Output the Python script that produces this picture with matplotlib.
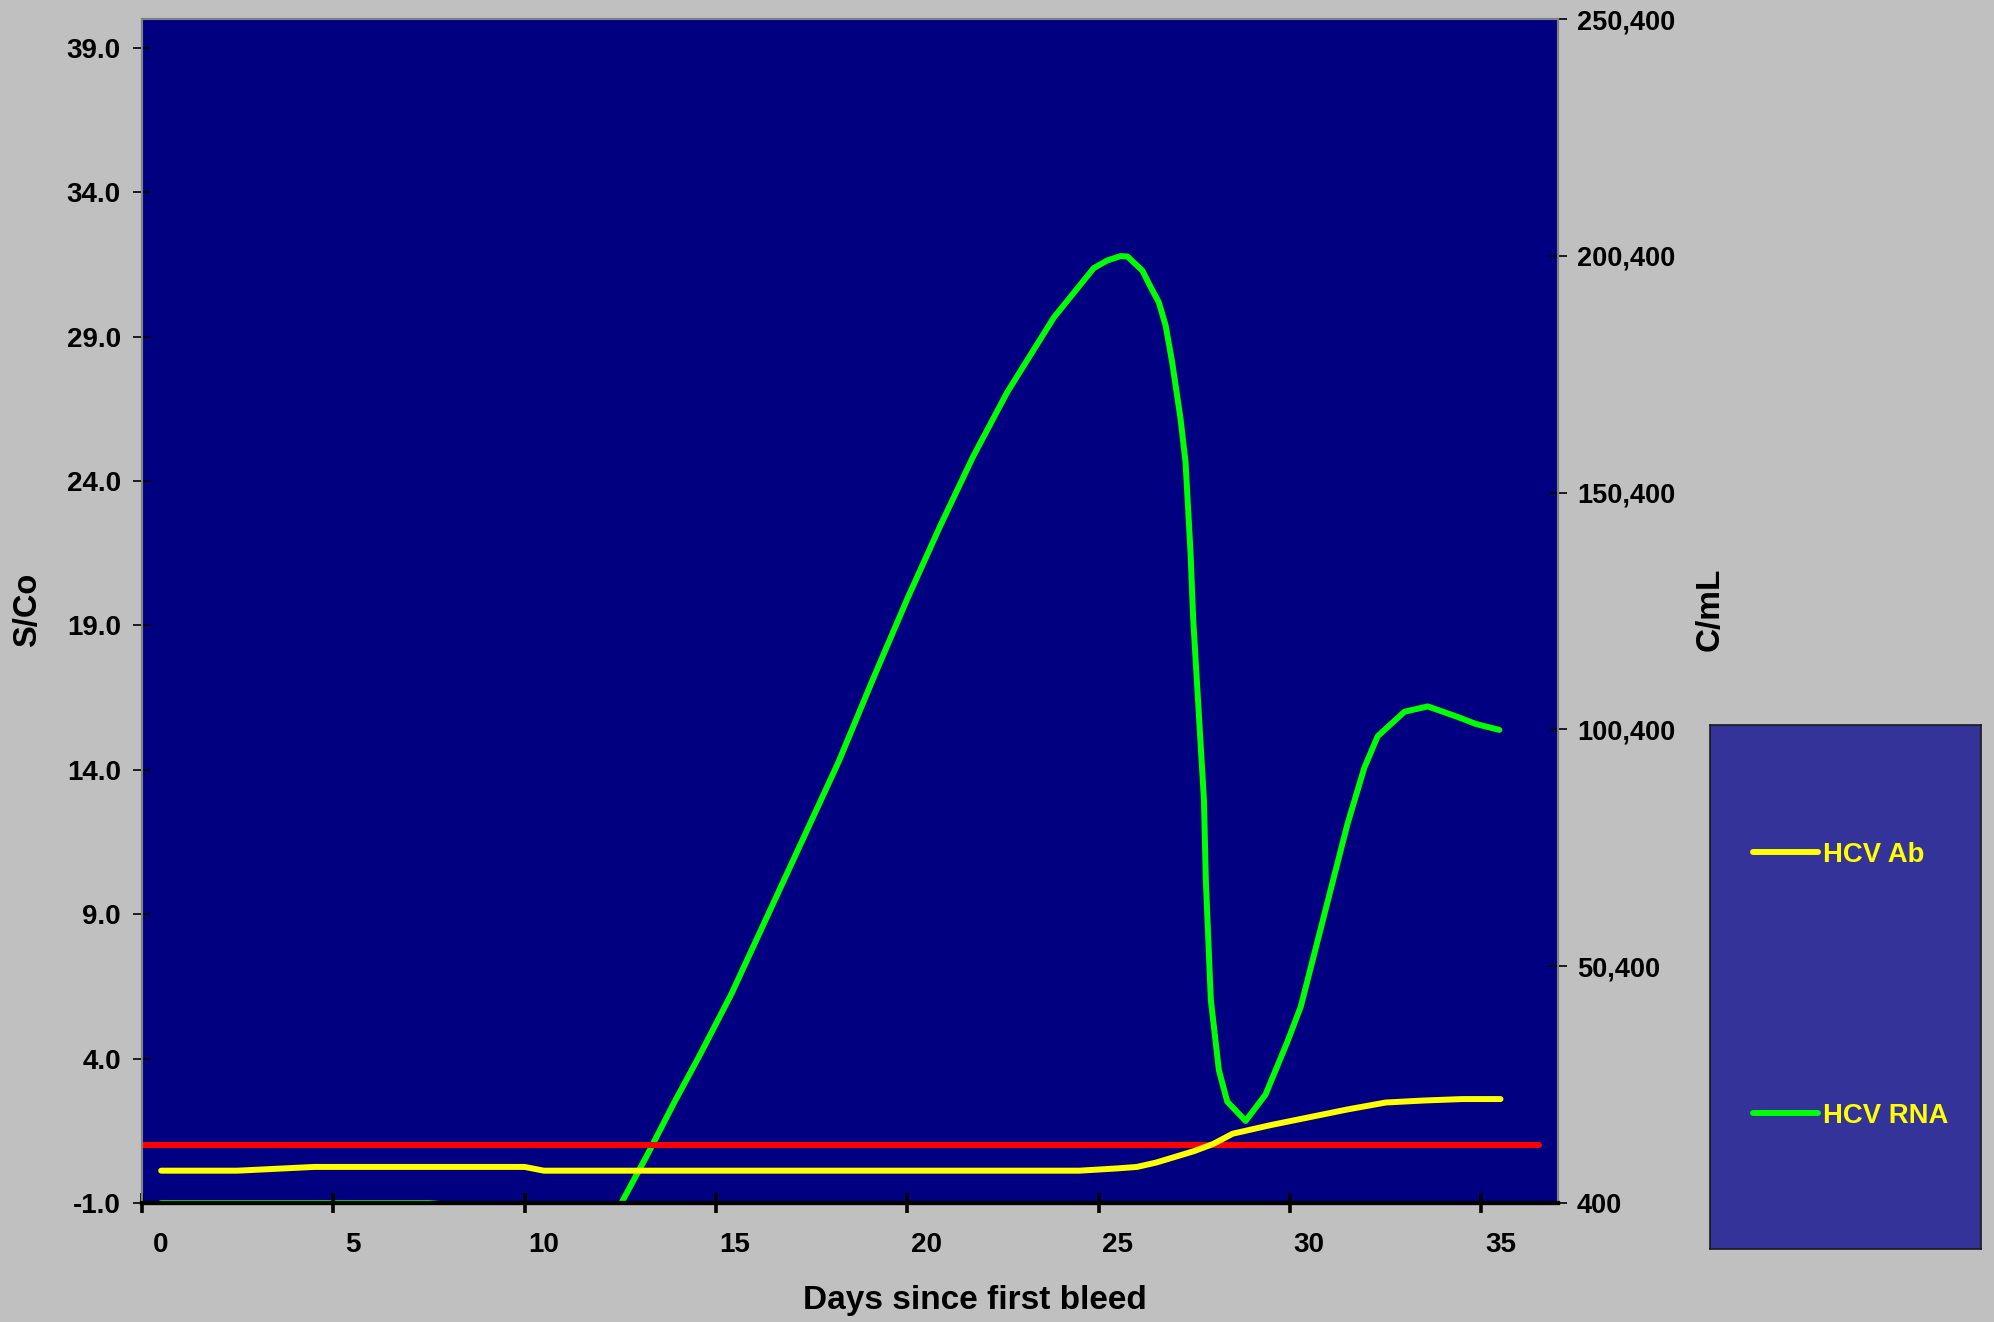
import numpy as np
import matplotlib
matplotlib.use("Agg")
import matplotlib.pyplot as plt
from matplotlib.lines import Line2D

plt.rcParams['font.family'] = ['Liberation Sans', 'DejaVu Sans']
plt.rcParams['font.weight'] = 'bold'

# HCV RNA (C/mL), right axis
rna_days = [0, 7, 7.6, 11.9, 12.0, 12.7, 13.4, 14.1, 14.9, 15.7, 16.7,
            17.7, 18.6, 19.5, 20.36, 21.23, 22.11, 23.33, 24.37, 24.72, 25.07,
            25.25, 25.64, 25.86, 26.07, 26.25, 26.42, 26.64, 26.77, 26.9, 26.97,
            27.25, 27.3, 27.43, 27.64, 27.86, 28.34, 28.86, 29.43, 29.78, 30.39,
            31.0, 31.44, 31.79, 32.49, 33.1, 33.88, 34.36, 34.97]
rna_vals = [400, 400, 0, 0, 0, 10500, 21500, 32000, 44500, 58500, 76000,
            93500, 111000, 128000, 143400, 158200, 171600, 187400, 197800, 199400, 200340,
            200270, 197300, 193780, 190610, 185670, 177920, 165940, 156780, 137760, 123650,
            85600, 68540, 43320, 28480, 21800, 17740, 23300, 34440, 41840, 61120,
            80400, 92280, 98960, 104140, 105260, 103040, 101540, 100300]

# HCV Ab (S/Co), left axis
ab_days = [0, 2, 4, 9.5, 10, 24, 25, 25.5, 26, 26.5, 27, 27.5, 28, 29, 30, 31, 32, 33, 34, 35]
ab_vals = [0.12, 0.12, 0.25, 0.25, 0.12, 0.12, 0.2, 0.25, 0.4, 0.6, 0.8, 1.05, 1.4,
           1.7, 1.97, 2.24, 2.48, 2.55, 2.6, 2.6]

# assay cutoff
cutoff_days = [-0.5, 36.0]
cutoff_val = 1.0

left_ticks = np.arange(-1, 40, 5)
right_ticks = np.arange(400, 250401, 50000)
day_labels = np.arange(0, 36, 5)

bg = '#C0C0C0'
fig = plt.figure(figsize=(19.94, 13.22), dpi=100, facecolor=bg)
ax1 = fig.add_axes([0.0712, 0.0900, 0.7101, 0.8956])
ax2 = ax1.twinx()
ax1.set_zorder(ax2.get_zorder() + 1)
ax1.patch.set_visible(False)
ax2.patch.set_visible(True)
ax2.set_facecolor('#000080')

ax2.plot(rna_days, rna_vals, color='#00FF00', lw=4.3, solid_capstyle='round',
         solid_joinstyle='round')
ax1.plot(cutoff_days, [cutoff_val, cutoff_val], color='#FF0000', lw=4.3,
         solid_capstyle='round')
ax1.plot(ab_days, ab_vals, color='#FFFF00', lw=4.3, solid_capstyle='round',
         solid_joinstyle='round')

ax1.set_xlim(-0.5, 36.5)
ax1.set_ylim(-1, 40)
ax2.set_ylim(400, 250400)

# x axis: tick marks between categories, labels on the days
ax1.set_xticks(np.arange(-0.5, 36, 5))
ax1.set_xticklabels([])
ax1.set_xticks(day_labels, minor=True)
ax1.set_xticklabels([str(d) for d in day_labels], minor=True)
ax1.tick_params(axis='x', which='major', direction='inout', length=14.5, width=2.6,
                color='black')
ax1.tick_params(axis='x', which='minor', length=0, pad=21, labelsize=20)

ax1.set_yticks(left_ticks)
ax1.set_yticklabels([f'{v:.1f}' for v in left_ticks])
ax1.tick_params(axis='y', direction='inout', length=12.5, width=1.2, pad=9,
                labelsize=20)

ax2.set_yticks(right_ticks)
ax2.set_yticklabels([f'{v:,.0f}' for v in right_ticks])
ax2.tick_params(axis='y', direction='inout', length=12.5, width=1.2, pad=7.4,
                labelsize=19.5)

for ax in (ax1, ax2):
    for s in ('left', 'right', 'top'):
        ax.spines[s].set_color('#808080')
        ax.spines[s].set_linewidth(1.5)
    ax.spines['bottom'].set_color('black')
    ax.spines['bottom'].set_linewidth(3)

fig.text(28 / 1994, 1 - 610 / 1322, 'S/Co', rotation=90, ha='center', va='center',
         fontsize=23.5, fontweight='bold')
fig.text(1710 / 1994, 1 - 609 / 1322, 'C/mL', rotation=90, ha='center', va='center',
         fontsize=24, fontweight='bold')
fig.text(975 / 1994, 1 - 1301 / 1322, 'Days since first bleed', ha='center',
         va='center', fontsize=24, fontweight='bold')

# legend box
lax = fig.add_axes([1710 / 1994, 1 - 1249 / 1322, 271 / 1994, 524 / 1322])
lax.set_facecolor('#333399')
lax.set_xticks([])
lax.set_yticks([])
for s in lax.spines.values():
    s.set_color('#1a1a1a')
    s.set_linewidth(1.2)
handles = [Line2D([], [], color='#FFFF00', lw=4.3, solid_capstyle='round'),
           Line2D([], [], color='#00FF00', lw=4.3, solid_capstyle='round')]
leg = lax.legend(handles, ['HCV Ab', 'HCV RNA'], loc='center',
                 bbox_to_anchor=(0.52, 0.503), frameon=False, fontsize=19.8,
                 labelspacing=8.55, handlelength=2.35, handletextpad=0.2,
                 labelcolor='#FFFF00')

fig.savefig('out.png', dpi=100, facecolor=bg)
